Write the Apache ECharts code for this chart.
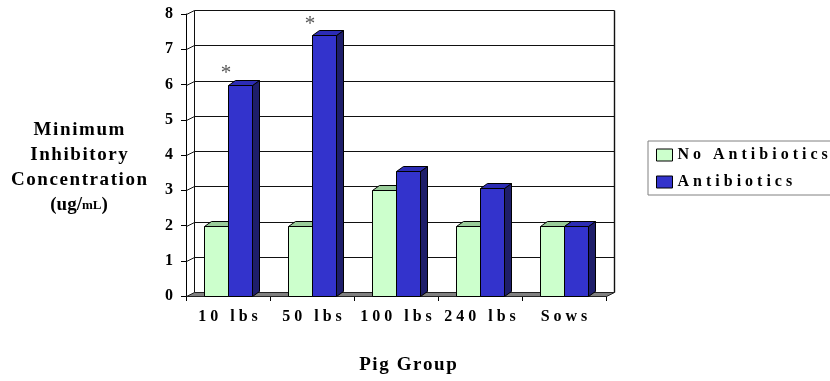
<!DOCTYPE html>
<html>
<head>
<meta charset="utf-8">
<script src="https://cdn.jsdelivr.net/npm/echarts@6/dist/echarts.min.js"></script>
<style>
  html, body { margin: 0; padding: 0; background: #ffffff; }
  #chart { width: 830px; height: 381px; }
</style>
</head>
<body>
<div id="chart"></div>
<script>
// Minimum inhibitory concentration by pig group
const categories = ['10 lbs', '50 lbs', '100 lbs', '240 lbs', 'Sows'];
const noAntibiotics = [2, 2, 3, 2, 2];
const antibiotics = [6, 7.4, 3.56, 3.07, 2];
const significance = ['*', '*', '', '', ''];
const yTicks = [0, 1, 2, 3, 4, 5, 6, 7, 8];
const seriesNames = ['No Antibiotics', 'Antibiotics'];

const SERIF = '"Liberation Serif", "Times New Roman", serif';
const WALL_DX = 8, WALL_DY = -4;   // depth of the back wall / floor
const BAR_DX = 7, BAR_DY = -5;     // depth of each box
const BAR_RATIO = 0.29;            // bar width as share of a category band

const greenFaces = { front: '#CCFFCC', top: '#99CC99', side: '#669966' };
const blueFaces = { front: '#3333CC', top: '#2C2CB4', side: '#1E1E6A' };

function spaced(s, gap) { return s.split('').join(gap); }
function px(v) { return Math.round(v) + 0.5; }

// back wall grid lines, side-wall connectors and the grey floor
function renderWalls(params, api) {
  const cs = params.coordSys;
  const v = api.value(1);
  const y = px(api.coord([0, v])[1]);
  const x0 = px(cs.x), x1 = px(cs.x + cs.width);
  const line = { stroke: '#111', lineWidth: 1, fill: null };
  const children = [];
  if (v === yTicks[0]) {
    children.push({
      type: 'polygon',
      shape: { points: [[x0, y], [x1, y], [x1 + WALL_DX, y + WALL_DY], [x0 + WALL_DX, y + WALL_DY]] },
      style: { fill: '#808080', stroke: '#222', lineWidth: 1 }
    });
  } else {
    children.push({
      type: 'polyline',
      shape: { points: [[x0, y], [x0 + WALL_DX, y + WALL_DY], [x1 + WALL_DX, y + WALL_DY]] },
      style: line
    });
  }
  if (v === yTicks[yTicks.length - 1]) {
    const yb = px(api.coord([0, yTicks[0]])[1]);
    children.push({
      type: 'polyline',
      shape: { points: [[x0 + WALL_DX, y + WALL_DY], [x0 + WALL_DX, yb + WALL_DY]] },
      style: line
    });
    children.push({
      type: 'polyline',
      shape: { points: [[x1 + WALL_DX, y + WALL_DY], [x1 + WALL_DX, yb + WALL_DY]] },
      style: { stroke: '#111', lineWidth: 1.4, fill: null }
    });
  }
  return { type: 'group', children: children };
}

function boxRenderer(slot, faces, marks) {
  return function (params, api) {
    const ci = api.value(0), v = api.value(1);
    const band = api.size([1, 0])[0];
    const w = band * BAR_RATIO;
    const base = api.coord([ci, 0]);
    const top = api.coord([ci, v])[1];
    const left = base[0] - w + slot * w;
    const L = px(left), R = px(left + w);
    const T = px(top), B = px(base[1]);
    const edge = { stroke: '#000', lineWidth: 1 };
    const children = [
      { type: 'polygon',
        shape: { points: [[R, T], [R + BAR_DX, T + BAR_DY], [R + BAR_DX, B + BAR_DY], [R, B]] },
        style: Object.assign({ fill: faces.side }, edge) },
      { type: 'polygon',
        shape: { points: [[L, T], [R, T], [R + BAR_DX, T + BAR_DY], [L + BAR_DX, T + BAR_DY]] },
        style: Object.assign({ fill: faces.top }, edge) },
      { type: 'rect',
        shape: { x: L, y: T, width: R - L, height: B - T },
        style: Object.assign({ fill: faces.front }, edge) }
    ];
    if (marks && marks[ci]) {
      children.push({
        type: 'text',
        style: {
          text: marks[ci], x: base[0] - 2, y: top - 11,
          fill: '#555', font: '21px ' + SERIF,
          textAlign: 'center', textVerticalAlign: 'middle'
        }
      });
    }
    return { type: 'group', children: children };
  };
}

const chart = echarts.init(document.getElementById('chart'), null, { renderer: 'canvas' });

chart.setOption({
  animation: false,
  backgroundColor: '#ffffff',
  grid: { left: 186, right: 224, top: 14, bottom: 85, containLabel: false },
  xAxis: {
    type: 'category',
    data: categories,
    boundaryGap: true,
    axisLine: { lineStyle: { color: '#000', width: 1 } },
    axisTick: { show: true, length: 5, alignWithLabel: false, lineStyle: { color: '#000' } },
    axisLabel: {
      interval: 0, margin: 13, color: '#000', fontFamily: SERIF, fontWeight: 'bold', fontSize: 16,
      formatter: function (v) { return spaced(v, ' '); }
    },
    splitLine: { show: false }
  },
  yAxis: {
    type: 'value',
    min: 0, max: 8, interval: 1,
    axisLine: { show: true, lineStyle: { color: '#000', width: 1 } },
    axisTick: { show: true, length: 5, lineStyle: { color: '#000' } },
    axisLabel: { margin: 13, color: '#000', fontFamily: SERIF, fontWeight: 'bold', fontSize: 16 },
    splitLine: { show: false }
  },
  legend: {
    orient: 'vertical',
    left: 648, top: 141,
    padding: [6, 60, 5, 8],
    itemWidth: 16, itemHeight: 12, itemGap: 11,
    borderColor: '#808080', borderWidth: 1,
    backgroundColor: '#ffffff',
    data: seriesNames.map(function (n) {
      return { name: n, icon: 'rect', itemStyle: { borderColor: '#000', borderWidth: 1 } };
    }),
    formatter: function (n) { return spaced(n, ' '); },
    textStyle: { color: '#000', fontFamily: SERIF, fontWeight: 'bold', fontSize: 16, lineHeight: 16 }
  },
  graphic: [
    {
      type: 'text', x: 79, y: 168,
      style: {
        text: [spaced('Minimum', '\u200A'), spaced('Inhibitory', '\u200A'),
               spaced('Concentration', '\u200A'), '{a|(ug/}{b|mL}{a|)}'].join('\n'),
        font: 'bold 19px ' + SERIF, fill: '#000', lineHeight: 25,
        textAlign: 'center', textVerticalAlign: 'middle',
        rich: {
          a: { font: 'bold 19px ' + SERIF, fill: '#000', lineHeight: 25 },
          b: { font: 'bold 13px ' + SERIF, fill: '#000', lineHeight: 25 }
        }
      }
    },
    {
      type: 'text', x: 408, y: 365,
      style: {
        text: spaced('Pig Group', '\u200A'),
        font: 'bold 19px ' + SERIF, fill: '#000',
        textAlign: 'center', textVerticalAlign: 'middle'
      }
    }
  ],
  series: [
    {
      type: 'custom', name: 'walls', silent: true, clip: false, z: 1,
      renderItem: renderWalls,
      data: yTicks.map(function (v) { return [0, v]; }),
      encode: { x: 0, y: 1 }
    },
    {
      type: 'custom', name: seriesNames[0], clip: false, z: 3,
      itemStyle: { color: greenFaces.front },
      renderItem: boxRenderer(0, greenFaces, null),
      data: noAntibiotics.map(function (v, i) { return [i, v]; }),
      encode: { x: 0, y: 1 }
    },
    {
      type: 'custom', name: seriesNames[1], clip: false, z: 4,
      itemStyle: { color: blueFaces.front },
      renderItem: boxRenderer(1, blueFaces, significance),
      data: antibiotics.map(function (v, i) { return [i, v]; }),
      encode: { x: 0, y: 1 }
    }
  ]
});
</script>
</body>
</html>
